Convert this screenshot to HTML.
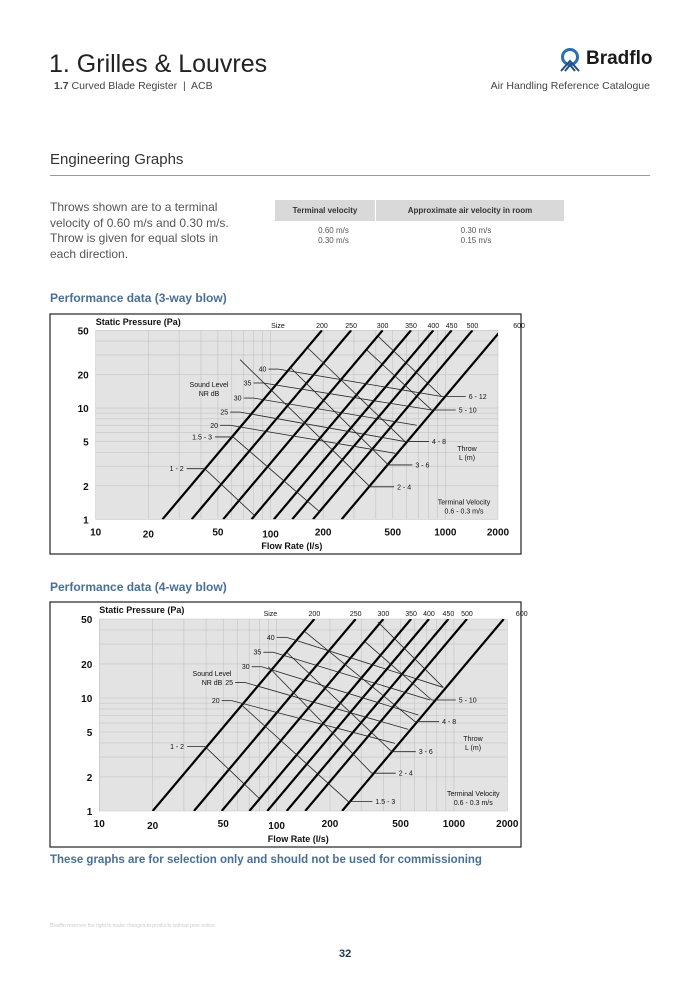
<!DOCTYPE html>
<html><head><meta charset="utf-8">
<style>
body{margin:0;background:#fff;}
#page{position:relative;width:700px;height:990px;overflow:hidden;font-family:"Liberation Sans",sans-serif;color:#333;}
.abs{position:absolute;white-space:nowrap;}
</style></head>
<body>
<div id="page">
<div class="abs" style="left:49px;top:50px;font-size:25px;color:#222;">1. Grilles &amp; Louvres</div>
<div class="abs" style="left:54px;top:80px;font-size:10.5px;color:#444;"><b>1.7</b> Curved Blade Register&nbsp; |&nbsp; ACB</div>
<svg class="abs" style="left:559px;top:48px" width="22" height="24" viewBox="0 0 22 24">
<circle cx="11" cy="9" r="7.5" fill="none" stroke="#2a6fb0" stroke-width="3"/>
<path d="M2 23 L11 13 L20 23 M6 23 L11 17 L16 23" fill="none" stroke="#1f4f82" stroke-width="2"/>
</svg>
<div class="abs" style="left:586px;top:48px;font-size:19px;font-weight:bold;color:#1a1a1a;">Bradflo</div>
<div class="abs" style="right:50px;top:80px;font-size:10.5px;color:#444;">Air Handling Reference Catalogue</div>
<div class="abs" style="left:50px;top:151px;font-size:15px;color:#333;">Engineering Graphs</div>
<div class="abs" style="left:50px;top:175px;width:600px;height:1px;background:#999;"></div>
<div class="abs" style="left:50px;top:200px;font-size:12px;line-height:15.5px;color:#555;">Throws shown are to a terminal<br>velocity of 0.60 m/s and 0.30 m/s.<br>Throw is given for equal slots in<br>each direction.</div>
<div class="abs" style="left:275px;top:200px;width:289px;height:21px;background:#d9d9d9;"></div>
<div class="abs" style="left:375px;top:200px;width:1px;height:21px;background:#fff;"></div>
<div class="abs" style="left:275px;width:100px;top:206px;font-size:8px;font-weight:bold;text-align:center;color:#333;">Terminal velocity</div>
<div class="abs" style="left:376px;width:188px;top:206px;font-size:8px;font-weight:bold;text-align:center;color:#333;">Approximate air velocity in room</div>
<div class="abs" style="left:275px;width:117px;top:226px;font-size:8px;line-height:10px;text-align:center;color:#555;">0.60 m/s<br>0.30 m/s</div>
<div class="abs" style="left:376px;width:200px;top:226px;font-size:8px;line-height:10px;text-align:center;color:#555;">0.30 m/s<br>0.15 m/s</div>
<div class="abs" style="left:50px;top:291px;font-size:12px;font-weight:bold;color:#4a6f96;">Performance data (3-way blow)</div>
<div class="abs" style="left:50px;top:580px;font-size:12px;font-weight:bold;color:#4a6f96;">Performance data (4-way blow)</div>
<div class="abs" style="left:50px;top:854px;font-size:11.5px;font-weight:bold;color:#4a6f96;">These graphs are for selection only and should not be used for commissioning</div>
<div class="abs" style="left:50px;top:923px;font-size:5px;color:#ccc;">Bradflo reserves the right to make changes to products without prior notice</div>
<div class="abs" style="left:339px;top:948px;font-size:11px;font-weight:bold;color:#1f3550;">32</div>
<svg id="charts" class="abs" style="left:0;top:0" width="700" height="990"></svg>
</div>
<script>
// ---- shared data ----
const sizeLabels = ["200","250","300","350","400","450","500","600"];
const nrLabels = ["40","35","30","25","20"];
const xTicks = [10,20,50,100,200,500,1000,2000];
const yTicks = [1,2,5,10,20,50];
// chart 1 (3-way): flow at 1 Pa for each size line
const c1SizeFlowAt1Pa = [24.1,35.4,53.6,77.9,104.5,133,175,255];
// NR lines: start flow, start pressure, end flow, end pressure
const c1NrStartQ = [111,91,80,67,58.7];
const c1NrStartP = [22.4,16.8,12.3,9.2,7.0];
const c1NrEndQ = [953,836,686,588,516];
const c1NrEndP = [12.7,9.6,7.0,5.0,3.92];
const c1ThrowLabels = ["6 - 12","5 - 10","4 - 8","3 - 6","2 - 4","1.5 - 3","1 - 2"];
const c1ThrowSide = ["R","R","R","R","R","L","L"];
const c1ThrowStartQ = [414,355,164,129,67,61,42];
const c1ThrowStartP = [43.9,33.3,34.5,23.4,27.2,5.5,2.85];
const c1ThrowEndQ = [953,836,588,472,371,192,80.5];
const c1ThrowEndP = [12.7,9.6,5.0,3.08,1.96,1.16,1.09];
// chart 2 (4-way)
const c2SizeFlowAt1Pa = [20.0,34.2,49,70.2,88.6,114,145,234];
const c2NrStartQ = [114,95.8,82.4,66.4,55.8];
const c2NrStartP = [34.4,25.4,18.9,13.7,9.47];
const c2NrEndQ = [871,733,630,553,465];
const c2NrEndP = [12.4,9.6,7.07,5.28,3.97];
const c2ThrowLabels = ["","5 - 10","4 - 8","3 - 6","2 - 4","1.5 - 3","1 - 2"];
const c2ThrowSide = ["R","R","R","R","R","R","L"];
const c2ThrowStartQ = [373,315,145,114,89.8,64.4,39.5];
const c2ThrowStartP = [47,31.5,38.4,25.4,18.9,8.49,3.71];
const c2ThrowEndQ = [871,750,604,446,344,254,79.9];
const c2ThrowEndP = [12.4,9.6,6.17,3.35,2.16,1.21,1.29];
const sizeSlope = 1.863; // log P per log Q

const NS="http://www.w3.org/2000/svg";
const root=document.getElementById('charts');
function mk(tag,attrs,parent){const e=document.createElementNS(NS,tag);for(const k in attrs)e.setAttribute(k,attrs[k]);(parent||root).appendChild(e);return e;}
function txt(parent,x,y,s,size,anchor,weight){const t=mk('text',{x:x,y:y,'font-size':size,'text-anchor':anchor||'start','font-family':'Liberation Sans, sans-serif',fill:'#111','font-weight':weight||'normal'},parent);t.textContent=s;return t;}

function drawChart(cfg){
  const g=mk('g',{});
  
  
  const X=q=>cfg.x0+(cfg.x1-cfg.x0)*(Math.log10(q)-1)/Math.log10(200);
  const Y=p=>cfg.yb-(cfg.yb-cfg.yt)*Math.log10(p)/Math.log10(50);
  const frame=mk('rect',{x:cfg.bx,y:cfg.by,width:cfg.bw,height:cfg.bh,fill:'#fff',stroke:'#222','stroke-width':1.2},g);
  
  
  const bg=mk('rect',{x:cfg.x0,y:cfg.yt,width:cfg.x1-cfg.x0,height:cfg.yb-cfg.yt,fill:'#e3e3e3'},g);
  
  
  const cid='clip'+cfg.name;
  const cp=mk('clipPath',{id:cid},g);
  mk('rect',{x:cfg.x0,y:cfg.yt,width:cfg.x1-cfg.x0,height:cfg.yb-cfg.yt},cp);
  const grid=mk('g',{stroke:'#c4c4c4','stroke-width':0.6},g);
  
  
  for(let d=10;d<=1000;d*=10)for(let m=1;m<=9;m++){const q=d*m;if(q>2000)break;const x=X(q);mk('line',{x1:x,x2:x,y1:cfg.yt,y2:cfg.yb},grid);}
  for(let d=1;d<=10;d*=10)for(let m=1;m<=9;m++){const p=d*m;if(p>50)break;const y=Y(p);mk('line',{x1:cfg.x0,x2:cfg.x1,y1:y,y2:y},grid);}
  yTicks.forEach(v=>{const t=txt(g,cfg.x0-7,Y(v)+4,String(v),10,'end','bold');});
  xTicks.forEach((v,i)=>{const t=txt(g,X(v),cfg.yb+16+(i%2===1&&i<5?2:0),String(v),10,'middle','bold');});
  const yt=txt(g,cfg.x0,cfg.by+11,'Static Pressure (Pa)',9,'start','bold');
  
  const xt=txt(g,(cfg.x0+cfg.x1)/2-5,cfg.by+cfg.bh-5,'Flow Rate (l/s)',9,'middle','bold');
  
  const plot=mk('g',{'clip-path':'url(#'+cid+')'},g);
  cfg.sizes.forEach((q0,i)=>{
    const qTop=q0*Math.pow(50,1/sizeSlope);
    const l=mk('line',{x1:X(q0),y1:Y(1),x2:X(qTop),y2:Y(50),stroke:'#000','stroke-width':2.2},plot);
    
    
    const lx=Math.min(X(qTop),cfg.x1+4)+(i===7?18:0);
    const t=txt(g,lx,cfg.by+14,sizeLabels[i],7,'middle');
    
  });
  const st=txt(g,X(cfg.sizes[0]*Math.pow(50,1/sizeSlope))-44,cfg.by+14,'Size',7,'middle');
  
  nrLabels.forEach((lab,i)=>{
    const x1=X(cfg.nrSQ[i]),y1=Y(cfg.nrSP[i]);
    const l=mk('line',{x1:x1,y1:y1,x2:X(cfg.nrEQ[i]),y2:Y(cfg.nrEP[i]),stroke:'#222','stroke-width':0.8},g);
    
    
    mk('line',{x1:x1-10,y1:y1,x2:x1,y2:y1,stroke:'#222','stroke-width':0.8},g);
    const t=txt(g,x1-12,y1+2.5,lab,7,'end');
    
  });
  cfg.thL.forEach((lab,i)=>{
    const sx=X(cfg.thSQ[i]),sy=Y(cfg.thSP[i]),ex=X(cfg.thEQ[i]),ey=Y(cfg.thEP[i]);
    const l=mk('line',{x1:sx,y1:sy,x2:ex,y2:ey,stroke:'#222','stroke-width':0.8},g);
    
    
    if(!lab)return;
    if(cfg.thS[i]==='R'){
      mk('line',{x1:ex,y1:ey,x2:ex+24,y2:ey,stroke:'#222','stroke-width':0.8},g);
      const t=txt(g,ex+27,ey+2.5,lab,7,'start');
      
    } else {
      mk('line',{x1:sx-18,y1:sy,x2:sx,y2:sy,stroke:'#222','stroke-width':0.8},g);
      const t=txt(g,sx-21,sy+2.5,lab,7,'end');
      
    }
  });
  const s1=txt(g,cfg.slx,cfg.sly,'Sound Level',7,'middle');
  txt(g,cfg.slx,cfg.sly+9,'NR  dB',7,'middle');
  const th=txt(g,cfg.thx,cfg.thy,'Throw',7,'middle');
  txt(g,cfg.thx,cfg.thy+9,'L  (m)',7,'middle');
  const tv=txt(g,cfg.x1-34,cfg.yb-15,'Terminal Velocity',7,'middle');
  txt(g,cfg.x1-34,cfg.yb-6,'0.6 - 0.3 m/s',7,'middle');
}
drawChart({name:'chart-3-way',bx:50,by:314,bw:471,bh:240,x0:95.7,x1:498,yt:330.3,yb:519.3,
  sizes:c1SizeFlowAt1Pa,nrSQ:c1NrStartQ,nrSP:c1NrStartP,nrEQ:c1NrEndQ,nrEP:c1NrEndP,
  thL:c1ThrowLabels,thS:c1ThrowSide,thSQ:c1ThrowStartQ,thSP:c1ThrowStartP,thEQ:c1ThrowEndQ,thEP:c1ThrowEndP,
  slx:209,sly:387,thx:467,thy:451});
drawChart({name:'chart-4-way',bx:50,by:602,bw:471,bh:245,x0:99.3,x1:507.3,yt:619,yb:811,
  sizes:c2SizeFlowAt1Pa,nrSQ:c2NrStartQ,nrSP:c2NrStartP,nrEQ:c2NrEndQ,nrEP:c2NrEndP,
  thL:c2ThrowLabels,thS:c2ThrowSide,thSQ:c2ThrowStartQ,thSP:c2ThrowStartP,thEQ:c2ThrowEndQ,thEP:c2ThrowEndP,
  slx:212,sly:676,thx:473,thy:741});
</script>
</body></html>
